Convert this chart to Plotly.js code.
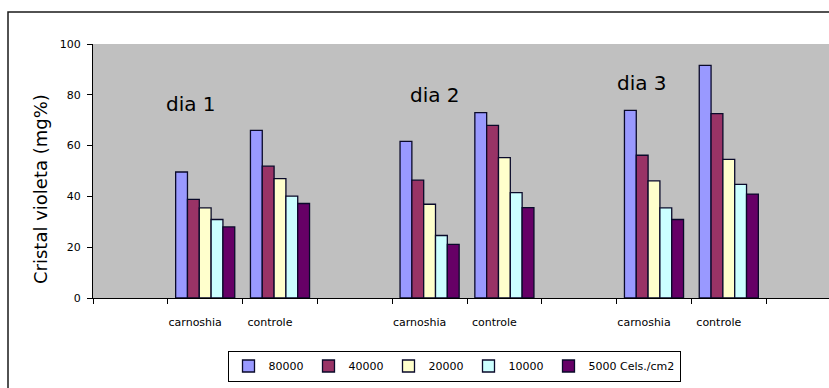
<!DOCTYPE html>
<html>
<head>
<meta charset="utf-8">
<script src="https://cdn.plot.ly/plotly-3.0.1.min.js"></script>
<style>
  html, body { margin: 0; padding: 0; background: #ffffff; }
  #chart { width: 829px; height: 388px; }
</style>
</head>
<body>
<div id="chart"></div>
<script>
// Days and treatments (each day has one carnoshia and one controle group)
const days = ['dia 1', 'dia 2', 'dia 3'];
const treatments = ['carnoshia', 'controle'];

// Cell densities (legend entries)
const seriesNames = ['80000', '40000', '20000', '10000', '5000 Cels./cm2'];

// Cristal violeta (mg%), order: dia1 carnoshia, dia1 controle, dia2 carnoshia, dia2 controle, dia3 carnoshia, dia3 controle
const v80000 = [49.6, 66.0, 61.7, 73.0, 73.9, 91.6];
const v40000 = [38.8, 51.9, 46.4, 68.0, 56.2, 72.6];
const v20000 = [35.5, 47.0, 36.9, 55.3, 46.1, 54.6];
const v10000 = [30.9, 40.1, 24.6, 41.5, 35.5, 44.7];
const v5000  = [28.0, 37.2, 21.1, 35.6, 30.9, 40.9];

const yTicks = [0, 20, 40, 60, 80, 100];

const seriesValues = [v80000, v40000, v20000, v10000, v5000];
const seriesColors = ['#9999FF', '#993366', '#FFFFCC', '#CCFFFF', '#660066'];

// Each day occupies three slots on the x axis: an empty slot, then the two treatments
const slotX = [];
const slotLabels = [];
days.forEach((d, di) => {
  treatments.forEach((t, ti) => {
    slotX.push(di * 3 + 1 + ti);
    slotLabels.push(t);
  });
});

const traces = seriesValues.map((vals, i) => ({
  type: 'bar',
  name: seriesNames[i],
  x: slotX,
  y: vals,
  marker: { color: seriesColors[i], line: { color: '#0a0a2a', width: 1.3 } },
  hoverinfo: 'skip'
}));

// Plot area geometry (pixels)
const W = 829, H = 388;
const mL = 93, mR = 0, mT = 44, mB = 90;
const plotW = W - mL - mR, plotH = H - mT - mB;
const slotPx = 74.8;
const px2paperX = px => (px - mL) / plotW;
const px2paperY = py => (H - mB - py) / plotH;

const dayLabelPos = [[191, 104], [435, 94.5], [642, 83.5]];

const annotations = days.map((d, i) => ({
  text: d,
  xref: 'paper', yref: 'paper',
  x: px2paperX(dayLabelPos[i][0]), y: px2paperY(dayLabelPos[i][1]),
  xanchor: 'center', yanchor: 'middle',
  showarrow: false,
  font: { family: 'DejaVu Sans', size: 20, color: '#000000' }
}));

annotations.push({
  text: 'Cristal violeta (mg%)',
  xref: 'paper', yref: 'paper',
  x: px2paperX(40), y: px2paperY(189),
  xanchor: 'center', yanchor: 'middle',
  textangle: -90,
  showarrow: false,
  font: { family: 'DejaVu Sans', size: 18, color: '#000000' }
});

const layout = {
  width: W, height: H,
  margin: { l: mL, r: mR, t: mT, b: mB, pad: 0 },
  paper_bgcolor: '#ffffff',
  plot_bgcolor: '#C0C0C0',
  barmode: 'group',
  bargap: 0.21,
  bargroupgap: 0,
  showlegend: true,
  legend: {
    orientation: 'h',
    x: px2paperX(454), y: px2paperY(366),
    xanchor: 'center', yanchor: 'middle',
    bordercolor: '#000000', borderwidth: 1,
    bgcolor: '#ffffff',
    itemwidth: 30,
    tracegroupgap: 0,
    font: { family: 'DejaVu Sans', size: 11, color: '#000000' }
  },
  xaxis: {
    type: 'linear',
    range: [-0.5, -0.5 + plotW / slotPx],
    tickmode: 'array',
    tickvals: slotX,
    ticktext: slotLabels,
    ticks: '',
    ticklabelstandoff: 14,
    ticklabelshift: -10,
    minor: { tickmode: 'linear', tick0: 0.5, dtick: 1, ticks: 'outside', ticklen: 5, tickcolor: '#000000', tickwidth: 1, showgrid: false },
    showline: true, linecolor: '#000000', linewidth: 1,
    showgrid: false, zeroline: false,
    tickfont: { family: 'DejaVu Sans', size: 11, color: '#000000' },
    fixedrange: true
  },
  yaxis: {
    range: [0, 100],
    tickmode: 'array',
    tickvals: yTicks,
    ticktext: yTicks.map(String),
    ticks: 'outside', ticklen: 5, tickcolor: '#000000', tickwidth: 1,
    ticklabelstandoff: 4,
    showline: true, linecolor: '#000000', linewidth: 1,
    showgrid: false, zeroline: false,
    tickfont: { family: 'DejaVu Sans', size: 11, color: '#000000' },
    fixedrange: true
  },
  annotations: annotations,
  shapes: [{
    type: 'rect', xref: 'paper', yref: 'paper',
    x0: px2paperX(8), x1: px2paperX(840),
    y0: px2paperY(400), y1: px2paperY(12),
    line: { color: '#1a1a1a', width: 1.5 },
    fillcolor: 'rgba(0,0,0,0)',
    layer: 'below'
  }]
};

Plotly.newPlot('chart', traces, layout, { displayModeBar: false, staticPlot: true });
</script>
</body>
</html>
